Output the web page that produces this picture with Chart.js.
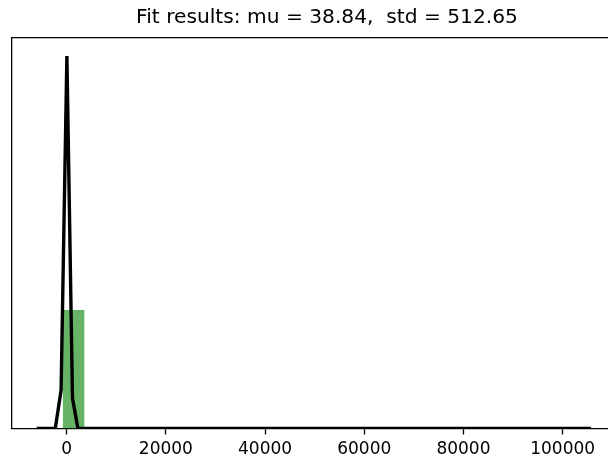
<!DOCTYPE html>
<html>
<head>
<meta charset="utf-8">
<script src="https://cdn.jsdelivr.net/npm/chart.js@4/dist/chart.umd.min.js"></script>
<style>
  html, body { margin: 0; padding: 0; overflow: hidden; background: #fff; }
  #wrap { width: 642px; height: 462px; }
</style>
</head>
<body>
<div id="wrap"><canvas id="histChart" width="642" height="462"></canvas></div>
<script>
// Histogram bins (density)
const binCenters = [1400, 5600, 9800, 14000, 18200, 22400, 26600, 30800, 35000, 39200,
    43400, 47600, 51800, 56000, 60200, 64400, 68600, 72800, 77000, 81200,
    85400, 89600, 93800, 98000, 102200];
const binDensity = [2.47e-4, 0, 0, 0, 0, 0, 0, 0, 0, 0,
    0, 0, 0, 0, 0, 0, 0, 0, 0, 0,
    0, 0, 0, 0, 0];

// Fitted normal curve, visible vertices
const fitX = [-6050, -2300, -1130, 40, 1170, 2270, 105700];
const fitY = [0, 0, 8.0e-5, 7.78e-4, 6.3e-5, 0, 0];

const xTicks = [0, 20000, 40000, 60000, 80000, 100000];
const titleText = 'Fit results: mu = 38.84,  std = 512.65';

const font = 'DejaVu Sans';

// the axes run past the right edge of the 608px window, like the reference
new Chart(document.getElementById('histChart'), {
    type: 'bar',
    data: {
        datasets: [
            {
                type: 'line',
                data: fitX.map((x, i) => ({ x: x, y: fitY[i] })),
                borderColor: '#000',
                borderWidth: 3.4,
                pointRadius: 0,
                tension: 0,
                order: 0
            },
            {
                type: 'bar',
                data: binCenters.map((x, i) => ({ x: x, y: binDensity[i] })),
                backgroundColor: 'rgba(0, 128, 0, 0.6)',
                borderWidth: 0,
                barPercentage: 1.0,
                categoryPercentage: 1.0,
                order: 1
            }
        ]
    },
    options: {
        responsive: false,
        animation: false,
        layout: { padding: { left: 12, right: 0, top: 0, bottom: -1.7 } },
        plugins: {
            legend: { display: false },
            tooltip: { enabled: false },
            title: {
                display: true,
                text: titleText,
                color: '#000',
                font: { family: font, size: 20.2, weight: 'normal', lineHeight: 1.2 },
                padding: { top: 6, bottom: 7 }
            }
        },
        scales: {
            x: {
                type: 'linear',
                position: 'bottom',
                min: -11028,
                max: 116000,
                offset: false,
                afterBuildTicks: axis => { axis.ticks = xTicks.map(v => ({ value: v })); },
                ticks: {
                    color: '#000',
                    font: { family: font, size: 17, lineHeight: 0.706 },
                    padding: 8.6,
                    maxRotation: 0,
                    autoSkip: false,
                    callback: v => String(v)
                },
                grid: {
                    display: true,
                    drawOnChartArea: false,
                    drawTicks: true,
                    tickLength: 6,
                    tickColor: '#000',
                    tickWidth: 1.3,
                    offset: false
                },
                border: { display: true, color: '#000', width: 1.3 }
            },
            x2: {
                type: 'linear',
                position: 'top',
                display: true,
                ticks: { display: false },
                grid: { display: false, drawTicks: false },
                border: { display: true, color: '#000', width: 1.3 }
            },
            y: {
                min: 0,
                max: 8.17e-4,
                ticks: { display: false },
                grid: { display: false, drawTicks: false },
                border: { display: true, color: '#000', width: 1.3 }
            }
        }
    }
});
</script>
</body>
</html>
